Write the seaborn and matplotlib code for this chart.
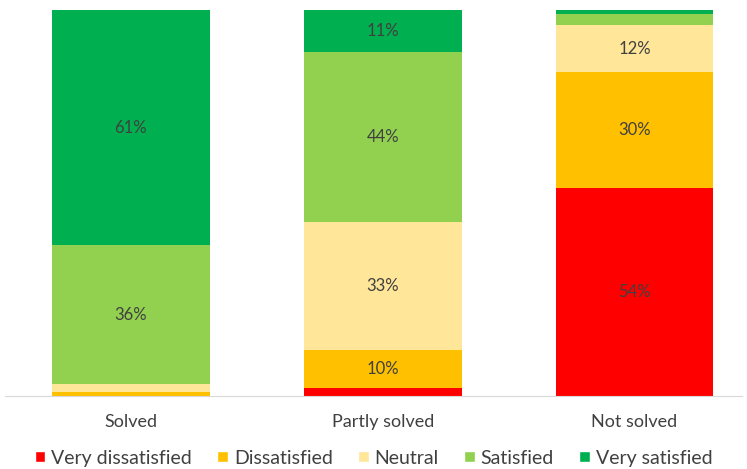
import numpy as np
import pandas as pd
import matplotlib.pyplot as plt
import seaborn as sns
from matplotlib.patches import Patch

categories = ["Solved", "Partly solved", "Not solved"]
levels = ["Very dissatisfied", "Dissatisfied", "Neutral", "Satisfied", "Very satisfied"]
very_dissatisfied = [0, 2, 54]
dissatisfied = [1, 10, 30]
neutral = [2, 33, 12]
satisfied = [36, 44, 3]
very_satisfied = [61, 11, 1]
colors = ["#FF0000", "#FFC000", "#FFE699", "#92D050", "#00B050"]

series = [very_dissatisfied, dissatisfied, neutral, satisfied, very_satisfied]
df = pd.DataFrame(dict(zip(levels, series)), index=categories)
cum = df.cumsum(axis=1)

sns.set_style("white")
plt.rcParams['font.family'] = ['Lato', 'DejaVu Sans']

fig = plt.figure(figsize=(7.47, 4.69), dpi=100)
ax = fig.add_axes([5 / 747, 73 / 469, 737 / 747, 386 / 469])

# draw cumulative totals from the top layer down so each layer covers the one above
for lvl, col in reversed(list(zip(levels, colors))):
    d = pd.DataFrame({"cat": categories, "val": cum[lvl].values})
    sns.barplot(data=d, x="cat", y="val", color=col, width=0.627,
                saturation=1, linewidth=0, ax=ax)

# percentage labels for the bigger segments
for i, cat in enumerate(categories):
    for lvl in levels:
        v = df.loc[cat, lvl]
        if v >= 10:
            mid = cum.loc[cat, lvl] - v / 2
            ax.text(i, mid, f"{v}%", ha="center", va="center", fontsize=12, color="#404040")

ax.set_xlim(-0.5, (742 - 131) / 251.75)
ax.set_ylim(0, 100)
ax.set_xlabel("")
ax.set_ylabel("")
ax.set_yticks([])
ax.tick_params(axis="x", length=0, pad=13, labelsize=13, labelcolor="#404040")
for s in ["top", "right", "left"]:
    ax.spines[s].set_visible(False)
ax.spines["bottom"].set_color("#D9D9D9")

handles = [Patch(facecolor=c, label=l) for l, c in zip(levels, colors)]
fig.legend(handles=handles, loc="center", bbox_to_anchor=(0.5, 11 / 469), ncol=5,
           frameon=False, fontsize=14, labelcolor="#404040", handlelength=0.55,
           handleheight=0.55, handletextpad=0.3, columnspacing=1.3)

fig.savefig("out.png", dpi=100)
